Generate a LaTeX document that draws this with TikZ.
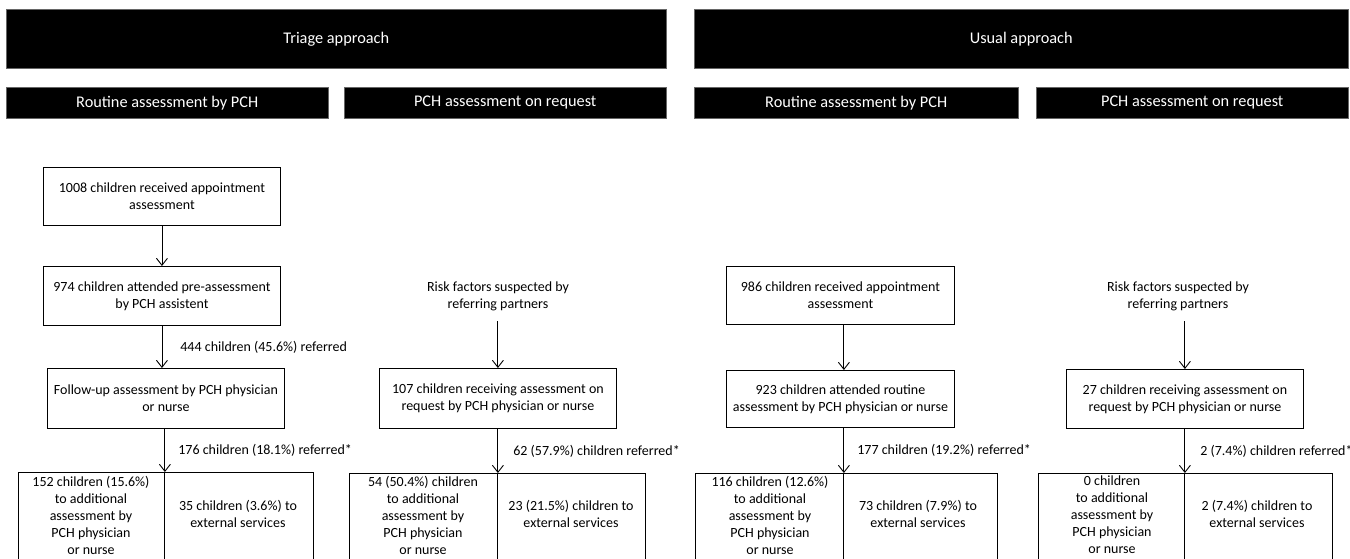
\documentclass[tikz,border=0pt]{standalone}
\usepackage{fontspec}
\setmainfont{Carlito}
\usetikzlibrary{arrows.meta}
\begin{document}
\begin{tikzpicture}[x=1pt,y=-1pt,
  every node/.style={font=\fontsize{14}{17}\selectfont, inner sep=0pt},
  box/.style={draw, line width=0.9pt, align=center, anchor=north west},
  splitbox/.style={draw, line width=0.9pt, anchor=north west, minimum height=140},
  hdr/.style={fill=black, draw=black!60, line width=0.5pt, text=white, anchor=north west, font=\fontsize{16.3}{18}\selectfont},
  lbl/.style={anchor=west, align=left},
  txt/.style={align=center},
  arr/.style={-{Straight Barb[length=7pt,width=11pt]}, line width=0.9pt}]
\useasboundingbox (0,0) rectangle (1350,558);
\clip (0,0) rectangle (1350,558);
% headers
\node[hdr, minimum width=660, minimum height=59] (H1) at (6,9) {Triage approach};
\node[hdr, minimum width=654, minimum height=59] (H2) at (694,9) {Usual approach};
\node[hdr, minimum width=322, minimum height=31] (S1) at (6,87) {Routine assessment by PCH};
\node[hdr, minimum width=322, minimum height=31] (S2) at (344,87) {PCH assessment on request};
\node[hdr, minimum width=324, minimum height=31] (S3) at (694,87) {Routine assessment by PCH};
\node[hdr, minimum width=312, minimum height=31] (S4) at (1036,87) {PCH assessment on request};
% column A
\node[box, minimum width=237, minimum height=58] (A1) at (43,167) {1008 children received appointment\\assessment};
\node[box, minimum width=237, minimum height=59] (A2) at (43,266) {974 children attended pre-assessment\\by PCH assistent};
\node[box, minimum width=237, minimum height=60] (A3) at (47,368) {Follow-up assessment by PCH physician\\or nurse};
\node[splitbox, minimum width=146] (A4l) at (18,472) {};
\node[splitbox, minimum width=149] (A4r) at (164,472) {};
\node[txt, anchor=north] (A4lt) at (91,476) {152 children (15.6\%)\\to additional\\assessment by\\PCH physician\\or nurse};
\node[txt] (A4rt) at (238,513.5) {35 children (3.6\%) to\\external services};
\draw[arr] (A1) -- (A2);
\draw[arr] (A2.south) -- node[lbl, xshift=18pt] {444 children (45.6\%) referred} (A2.south |- A3.north);
\draw[arr] (A3.south -| A4l.north east) -- node[lbl, xshift=13pt] {176 children (18.1\%) referred*} (A4l.north east);
% column B
\node[txt] (B1) at (498,296) {Risk factors suspected by\\referring partners};
\node[box, minimum width=237, minimum height=60] (B2) at (379,368) {107 children receiving assessment on\\request by PCH physician or nurse};
\node[splitbox, minimum width=148] (B4l) at (349,473) {};
\node[splitbox, minimum width=148] (B4r) at (497,473) {};
\node[txt, anchor=north] (B4lt) at (423,476) {54 (50.4\%) children\\to additional\\assessment by\\PCH physician\\or nurse};
\node[txt] (B4rt) at (571,513.5) {23 (21.5\%) children to\\external services};
\draw[arr] (B4l.north east |- 0,321) -- (B4l.north east |- B2.north);
\draw[arr] (B4l.north east |- B2.south) -- node[lbl, xshift=15pt] {62 (57.9\%) children referred*} (B4l.north east);
% column C
\node[box, minimum width=228, minimum height=58] (C1) at (726,266) {986 children received appointment\\assessment};
\node[box, minimum width=228, minimum height=57] (C2) at (726,370) {923 children attended routine\\assessment by PCH physician or nurse};
\node[splitbox, minimum width=148] (C4l) at (695,473) {};
\node[splitbox, minimum width=154] (C4r) at (843,473) {};
\node[txt, anchor=north] (C4lt) at (770,476) {116 children (12.6\%)\\to additional\\assessment by\\PCH physician\\or nurse};
\node[txt] (C4rt) at (918,513.5) {73 children (7.9\%) to\\external services};
\draw[arr] (C1.south -| C4l.north east) -- (C2.north -| C4l.north east);
\draw[arr] (C2.south -| C4l.north east) -- node[lbl, xshift=13pt] {177 children (19.2\%) referred*} (C4l.north east);
% column D
\node[txt] (D1) at (1178,296) {Risk factors suspected by\\referring partners};
\node[box, minimum width=237, minimum height=59] (D2) at (1066,369) {27 children receiving assessment on\\request by PCH physician or nurse};
\node[splitbox, minimum width=146] (D4l) at (1038,473) {};
\node[splitbox, minimum width=148] (D4r) at (1184,473) {};
\node[txt, anchor=north] (D4lt) at (1112,476) {0 children\\to additional\\assessment by\\PCH physician\\or nurse};
\node[txt] (D4rt) at (1257,513.5) {2 (7.4\%) children to\\external services};
\draw[arr] (D4l.north east |- 0,321) -- (D2.north -| D4l.north east);
\draw[arr] (D2.south -| D4l.north east) -- node[lbl, xshift=15pt] {2 (7.4\%) children referred*} (D4l.north east);
\end{tikzpicture}
\end{document}
